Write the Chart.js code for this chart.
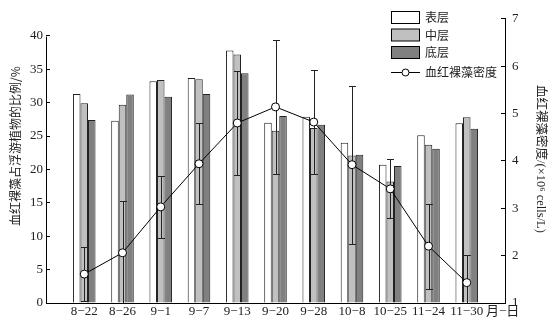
<!DOCTYPE html>
<html>
<head>
<meta charset="utf-8">
<script src="https://cdn.jsdelivr.net/npm/chart.js@4.4.0/dist/chart.umd.min.js"></script>
<style>
  body { margin: 0; background: #fff; }
  #wrap { width: 551px; height: 324px; }
</style>
</head>
<body>
<div id="wrap"><canvas id="algaeChart"></canvas></div>
<script>
// sampling dates (month-day)
const categories = ['8−22', '8−26', '9−1', '9−7', '9−13', '9−20', '9−28', '10−8', '10−25', '11−24', '11−30'];
const seriesNames = ['表层', '中层', '底层', '血红裸藻密度'];

// share of phytoplankton (%)
const surface = [31.3, 27.3, 33.2, 33.7, 37.8, 27.0, 27.9, 24.0, 20.7, 25.1, 26.9];
const middle  = [29.9, 29.7, 33.4, 33.5, 37.2, 25.8, 26.2, 22.1, 18.2, 23.7, 27.8];
const bottom  = [27.4, 31.2, 30.9, 31.3, 34.4, 28.0, 26.7, 22.2, 20.5, 23.1, 26.1];

// density (x10^6 cells/L) and its error
const density    = [1.61, 2.06, 3.03, 3.94, 4.80, 5.14, 4.82, 3.92, 3.41, 2.20, 1.43];
const densityErr = [0.57, 1.09, 0.65, 0.86, 1.09, 1.41, 1.09, 1.67, 0.62, 0.90, 0.59];

const ratioTicks = [0, 5, 10, 15, 20, 25, 30, 35, 40];
const densityTicks = [1, 2, 3, 4, 5, 6, 7];

const serif = '"Liberation Serif", "Noto Sans CJK SC", serif';
const cjk = '"Noto Sans CJK SC", sans-serif';

// one empty slot on each side so the groups sit away from the axes
const pad = arr => [null, ...arr, null];

const errorBars = {
  id: 'errorBars',
  beforeDatasetDraw(chart, args) {
    if (chart.data.datasets[args.index].type !== 'line') return;
    const c = chart.ctx;
    const area = chart.chartArea;
    const y = chart.scales.yDensity;
    c.save();
    c.beginPath();
    c.rect(area.left, area.top, area.right - area.left, area.bottom - area.top);
    c.clip();
    c.strokeStyle = '#222';
    c.lineWidth = 1;
    density.forEach((v, i) => {
      const x = Math.round(args.meta.data[i + 1].x) + 0.5;
      const top = Math.round(y.getPixelForValue(v + densityErr[i])) + 0.5;
      const bot = Math.round(y.getPixelForValue(v - densityErr[i])) + 0.5;
      c.beginPath();
      c.moveTo(x, top); c.lineTo(x, bot);
      c.moveTo(x - 3.5, top); c.lineTo(x + 3.5, top);
      c.moveTo(x - 3.5, bot); c.lineTo(x + 3.5, bot);
      c.stroke();
    });
    c.restore();
  }
};

const extras = {
  id: 'extras',
  afterDraw(chart) {
    const c = chart.ctx;
    const yr = chart.scales.yRatio;
    c.save();
    // left axis line only runs 0..40
    const ax = Math.round(chart.chartArea.left) + 0.5;
    c.strokeStyle = '#000';
    c.lineWidth = 1;
    c.beginPath();
    c.moveTo(ax, yr.getPixelForValue(0));
    c.lineTo(ax, Math.round(yr.getPixelForValue(40)) + 0.5);
    c.stroke();

    c.fillStyle = '#222';
    c.textBaseline = 'middle';

    // axis titles
    c.font = '12px ' + cjk;
    c.save();
    c.translate(15, 146);
    c.rotate(-Math.PI / 2);
    c.textAlign = 'center';
    c.fillText('血红裸藻占浮游植物的比例/%', 0, 0);
    c.restore();

    c.save();
    c.translate(540, 159);
    c.rotate(Math.PI / 2);
    c.textAlign = 'center';
    c.font = '12.5px ' + serif;
    c.fillText('血红裸藻密度/(×10⁶ cells/L)', 0, 0);
    c.restore();

    // date unit after the last tick label
    c.font = '13px ' + serif;
    c.textAlign = 'left';
    c.fillText('月−日', 486, 312);

    // legend
    const ds = chart.data.datasets;
    c.font = '12px ' + cjk;
    for (let i = 0; i < 3; i++) {
      const top = 11.5 + i * 17.5;
      c.fillStyle = ds[i].backgroundColor;
      c.fillRect(391.5, top, 28, 12);
      c.strokeStyle = '#000';
      c.strokeRect(391.5, top, 28, 12);
      c.fillStyle = '#222';
      c.fillText(ds[i].label, 425, top + 6);
    }
    const ly = 72.5;
    c.beginPath();
    c.moveTo(391, ly); c.lineTo(420, ly);
    c.stroke();
    c.beginPath();
    c.arc(405.5, ly, 3.5, 0, Math.PI * 2);
    c.fillStyle = '#fff';
    c.fill();
    c.stroke();
    c.fillStyle = '#222';
    c.fillText(ds[3].label, 425, ly);
    c.restore();
  }
};

const barStyle = {
  borderColor: '#222',
  borderWidth: 1,
  borderSkipped: 'start',
  categoryPercentage: 0.59,
  barPercentage: 1,
  yAxisID: 'yRatio',
  order: 1
};

const ctx = document.getElementById('algaeChart').getContext('2d');
const algaeChart = new Chart(ctx, {
  type: 'bar',
  data: {
    labels: pad(categories).map(l => l || ''),
    datasets: [
      { label: seriesNames[0], data: pad(surface), backgroundColor: '#ffffff', ...barStyle },
      { label: seriesNames[1], data: pad(middle), backgroundColor: '#c0c0c0', ...barStyle },
      { label: seriesNames[2], data: pad(bottom), backgroundColor: '#808080', ...barStyle },
      {
        type: 'line',
        label: seriesNames[3],
        data: pad(density),
        yAxisID: 'yDensity',
        borderColor: '#000',
        borderWidth: 1,
        pointRadius: 4,
        pointBackgroundColor: '#fff',
        pointBorderColor: '#000',
        pointBorderWidth: 1,
        tension: 0,
        order: 0
      }
    ]
  },
  options: {
    responsive: true,
    maintainAspectRatio: false,
    animation: false,
    layout: { padding: { top: 8, left: 0, right: 0, bottom: 0 } },
    plugins: {
      legend: { display: false },
      tooltip: { enabled: false }
    },
    scales: {
      x: {
        offset: false,
        grid: { display: false, drawTicks: false },
        border: { color: '#000', width: 1 },
        ticks: { color: '#222', font: { family: serif, size: 13 }, padding: 1, maxRotation: 0, autoSkip: false },
        afterFit: s => { s.height = 21; }
      },
      yRatio: {
        position: 'left',
        min: 0,
        max: 40 * 295 / 277.3,
        afterBuildTicks: s => { s.ticks = ratioTicks.map(v => ({ value: v })); },
        grid: { drawOnChartArea: false, tickLength: -4, color: '#000' },
        border: { display: false },
        ticks: { color: '#222', font: { family: serif, size: 13 }, padding: 7 },
        afterFit: s => { s.width = 46; }
      },
      yDensity: {
        position: 'right',
        min: 1,
        max: 7,
        afterBuildTicks: s => { s.ticks = densityTicks.map(v => ({ value: v })); },
        grid: { drawOnChartArea: false, tickLength: -4, color: '#000' },
        border: { color: '#000', width: 1 },
        ticks: { color: '#222', font: { family: serif, size: 13 }, padding: 11 },
        afterFit: s => { s.width = 46; }
      }
    }
  },
  plugins: [errorBars, extras]
});
</script>
</body>
</html>
